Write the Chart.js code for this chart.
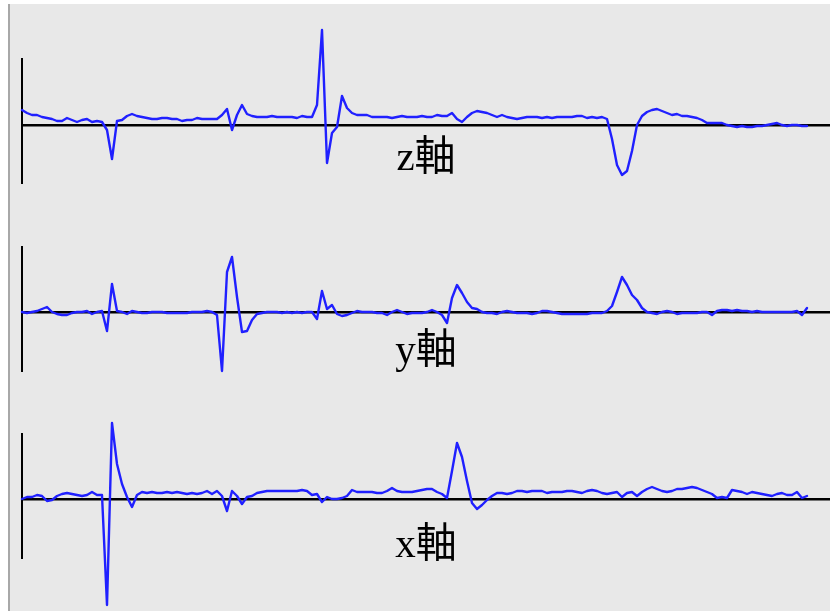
<!DOCTYPE html>
<html>
<head>
<meta charset="utf-8">
<script src="https://cdn.jsdelivr.net/npm/chart.js@4"></script>
<style>
  body { margin: 0; background: #fff; width: 830px; height: 611px; overflow: hidden; position: relative; }
  #frame { position: absolute; left: 8px; top: 4px; right: 0; bottom: 0; background: #e8e8e8; border-left: 2px solid #a8a8a8; }
  .panel { position: absolute; left: 0; width: 830px; }
</style>
</head>
<body>
<div id="frame"></div>
<div class="panel" id="p0" style="top:0px;height:200px"><canvas id="c0"></canvas></div>
<div class="panel" id="p1" style="top:190px;height:200px"><canvas id="c1"></canvas></div>
<div class="panel" id="p2" style="top:400px;height:211px"><canvas id="c2"></canvas></div>
<script>
// acceleration traces, one sample every step
const axisNames = ['z軸', 'y軸', 'x軸'];

const zAxis = [
    15, 12, 10, 10, 8, 7, 6, 4, 4, 7,
    5, 3, 5, 6, 3, 4, 3, -5, -34, 4,
    5, 9, 11, 9, 8, 7, 6, 6, 7, 7,
    6, 6, 4, 5, 5, 7, 6, 6, 6, 6,
    10, 16, -5, 10, 20, 11, 9, 8, 8, 8,
    9, 8, 8, 8, 8, 7, 9, 8, 8, 20,
    95, -38, -8, -2, 29, 17, 12, 10, 10, 10,
    8, 8, 8, 8, 7, 8, 9, 8, 8, 8,
    9, 8, 8, 10, 9, 9, 12, 6, 3, 8,
    12, 14, 13, 12, 10, 8, 10, 8, 7, 6,
    7, 8, 8, 8, 7, 8, 7, 8, 8, 8,
    8, 9, 9, 7, 8, 7, 8, 6, -14, -40,
    -50, -46, -26, 0, 9, 13, 15, 16, 14, 12,
    10, 11, 9, 9, 8, 7, 5, 2, 2, 2,
    2, 0, -1, -2, -1, -2, -2, -1, -1, 0,
    1, 2, 0, -1, 0, 0, -1, -1];

const yAxis = [
    0, -1, 0, 1, 3, 5, 0, -2, -3, -3,
    -1, 0, 0, 1, -2, 0, 1, -19, 28, 1,
    0, -2, 1, 0, -1, -1, 0, 0, 0, -1,
    -1, -1, -1, -1, 0, 0, 0, 1, 0, -3,
    -59, 40, 55, 15, -20, -19, -8, -2, -1, 0,
    0, 0, -1, 0, -1, 0, -1, 0, 0, -7,
    21, 3, 7, -2, -4, -3, -1, 1, 0, 0,
    0, -1, -1, -3, 0, 2, 0, -2, -1, -1,
    -1, 0, 2, 0, -3, -11, 14, 27, 19, 10,
    4, 3, 0, -1, -1, -2, 0, 1, 0, -1,
    -1, -1, -2, -1, 1, 1, 0, -1, -2, -2,
    -2, -2, -2, -2, -1, -1, -1, 1, 6, 20,
    35, 27, 17, 12, 4, 0, -1, -2, 0, 1,
    0, -2, -1, -1, -1, -1, 0, 0, -3, 1,
    2, 2, 1, 2, 1, 1, 0, 1, 0, 0,
    0, 0, 0, 0, 0, 1, -3, 4];

const xAxis = [
    0, 2, 2, 4, 3, -2, -1, 3, 5, 6,
    5, 4, 3, 4, 7, 4, 4, -106, 76, 35,
    15, 2, -8, 4, 7, 6, 7, 6, 6, 7,
    6, 7, 6, 5, 6, 5, 6, 8, 5, 8,
    3, -12, 8, 3, -5, 2, 3, 6, 7, 8,
    8, 8, 8, 8, 8, 8, 9, 8, 4, 5,
    -3, 2, 0, 0, 1, 3, 9, 7, 7, 7,
    7, 6, 6, 8, 11, 8, 7, 7, 7, 8,
    9, 10, 10, 7, 5, 1, 28, 56, 42, 18,
    -4, -10, -6, -1, 3, 6, 6, 5, 6, 8,
    8, 7, 8, 8, 8, 6, 7, 7, 7, 8,
    8, 7, 6, 8, 9, 8, 6, 5, 6, 7,
    2, 6, 7, 3, 7, 10, 12, 10, 8, 7,
    8, 10, 10, 11, 12, 11, 9, 7, 5, 1,
    2, 1, 9, 8, 7, 5, 7, 6, 5, 4,
    3, 5, 6, 4, 4, 7, 1, 3];

const series = [zAxis, yAxis, xAxis];
const yMin = [-58, -59, -59];
const yMax = [66, 65, 65];
const sampleMax = 161.6;

// where each panel's plot box sits inside its canvas
const padTop = [59, 57, 34];
const padBottom = [17, 19, 53];
const titlePad = [10, 16, 23];

series.forEach(function(values, k) {
    const ctx = document.getElementById('c' + k).getContext('2d');
    new Chart(ctx, {
        type: 'line',
        data: {
            datasets: [{
                data: values.map((v, i) => ({ x: i, y: v })),
                borderColor: '#2020ff',
                borderWidth: 2.4,
                pointRadius: 0,
                tension: 0,
                borderJoinStyle: 'round',
                borderCapStyle: 'round',
                clip: false
            }]
        },
        options: {
            responsive: true,
            maintainAspectRatio: false,
            animation: false,
            events: [],
            layout: { padding: { left: 22, right: 0, top: padTop[k], bottom: padBottom[k] } },
            plugins: { legend: { display: false }, tooltip: { enabled: false } },
            scales: {
                x: {
                    type: 'linear',
                    min: 0,
                    max: sampleMax,
                    position: { y: 0 },
                    grid: { display: false, drawTicks: false },
                    ticks: { display: false },
                    border: { display: true, color: '#000', width: 2.5 },
                    title: {
                        display: true,
                        text: axisNames[k],
                        color: '#000',
                        font: { family: "'Liberation Serif', 'Noto Sans CJK JP', serif", size: 41 },
                        padding: { top: titlePad[k], bottom: 0 }
                    }
                },
                y: {
                    min: yMin[k],
                    max: yMax[k],
                    grid: { display: false, drawTicks: false },
                    ticks: { display: false },
                    border: { display: true, color: '#000', width: 2 }
                }
            }
        }
    });
});
</script>
</body>
</html>
